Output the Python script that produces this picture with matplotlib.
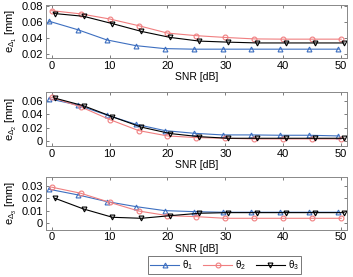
import matplotlib
matplotlib.use("Agg")
import matplotlib.pyplot as plt
import numpy as np

plt.rcParams['font.family'] = ['Liberation Sans', 'DejaVu Sans']
plt.rcParams['mathtext.fontset'] = 'custom'
plt.rcParams['mathtext.rm'] = 'Liberation Sans'
plt.rcParams['mathtext.it'] = 'Liberation Sans'

snr = [0, 5, 10, 15, 20, 25, 30, 35, 40, 45, 50]
series_names = [r'$\theta_1$', r'$\theta_2$', r'$\theta_3$']

# panel 1: e_Delta1
p1_t1 = [0.061, 0.0504, 0.0378, 0.0307, 0.027, 0.0263, 0.0263, 0.0263, 0.0263, 0.0263, 0.0263]
p1_t2 = [0.074, 0.070, 0.0637, 0.0554, 0.0462, 0.043, 0.0408, 0.039, 0.0387, 0.0387, 0.0387]
p1_t3 = [0.0704, 0.067, 0.0579, 0.0483, 0.0408, 0.0363, 0.035, 0.034, 0.034, 0.034, 0.034]
# panel 2: e_Delta2
p2_t1 = [0.063, 0.0536, 0.0387, 0.025, 0.0155, 0.0115, 0.009, 0.009, 0.0085, 0.0085, 0.0075]
p2_t2 = [0.065, 0.051, 0.032, 0.0155, 0.0075, 0.005, 0.004, 0.003, 0.003, 0.003, 0.003]
p2_t3 = [0.064, 0.0525, 0.036, 0.0206, 0.011, 0.0064, 0.004, 0.004, 0.004, 0.004, 0.004]
# panel 3: e_Delta3
p3_t1 = [0.0271, 0.0226, 0.0173, 0.0133, 0.0101, 0.0093, 0.0088, 0.0088, 0.0088, 0.0088, 0.0088]
p3_t2 = [0.0287, 0.0239, 0.0167, 0.0098, 0.0061, 0.0053, 0.004, 0.004, 0.004, 0.004, 0.004]
p3_t3 = [0.020, 0.0114, 0.0048, 0.004, 0.0061, 0.008, 0.0085, 0.0085, 0.0085, 0.0085, 0.0085]

panels = [
    ([p1_t1, p1_t2, p1_t3], r'$e_{\Delta_1}$ [mm]', (0.0155, 0.081), [0.02, 0.04, 0.06, 0.08], ['0.02', '0.04', '0.06', '0.08']),
    ([p2_t1, p2_t2, p2_t3], r'$e_{\Delta_2}$ [mm]', (-0.0075, 0.0735), [0, 0.02, 0.04, 0.06], ['0', '0.02', '0.04', '0.06']),
    ([p3_t1, p3_t2, p3_t3], r'$e_{\Delta_3}$ [mm]', (-0.005, 0.037), [0, 0.01, 0.02, 0.03], ['0', '0.01', '0.02', '0.03']),
]

colors = ['#3d6fc0', '#f07f80', '#000000']
markers = ['^', 'o', 'v']
offsets = [-0.5, 0.0, 0.5]

fig = plt.figure(figsize=(3.53, 2.77), dpi=100)
boxes = [(0.130, 0.791, 0.853, 0.191), (0.130, 0.473, 0.853, 0.196), (0.130, 0.171, 0.853, 0.191)]
handles = []
for (data, ylabel, ylim, yt, ytl), box in zip(panels, boxes):
    ax = fig.add_axes(box)
    hs = []
    for vals, c, m, off, name in zip(data, colors, markers, offsets, series_names):
        x = np.array(snr) + off
        h, = ax.plot(x, vals, color=c, marker=m, markersize=3.5, markerfacecolor='none',
                     markeredgewidth=0.8, linewidth=0.8, label=name)
        hs.append(h)
    handles = hs
    ax.set_xlim(-1, 51)
    ax.set_ylim(*ylim)
    ax.set_xticks([0, 10, 20, 30, 40, 50])
    ax.set_yticks(yt)
    ax.set_yticklabels(ytl)
    ax.tick_params(direction='in', top=True, right=True, labelsize=8, length=2.5,
                   width=0.6, color='#666666', pad=2)
    for s in ax.spines.values():
        s.set_color('#888888')
        s.set_linewidth(0.7)
    ax.set_xlabel('SNR [dB]', fontsize=7.5, labelpad=1)
    ax.set_ylabel(ylabel, fontsize=8, labelpad=2)

leg = fig.legend(handles=handles, labels=series_names, loc='upper center',
                 bbox_to_anchor=(0.636, 0.075), ncol=3, fontsize=7, frameon=True,
                 fancybox=False, edgecolor='#555555', handlelength=3.0,
                 columnspacing=1.0, handletextpad=0.3, borderpad=0.2,
                 borderaxespad=0.0)
leg.get_frame().set_linewidth(0.7)

fig.savefig('out.png', dpi=100)
